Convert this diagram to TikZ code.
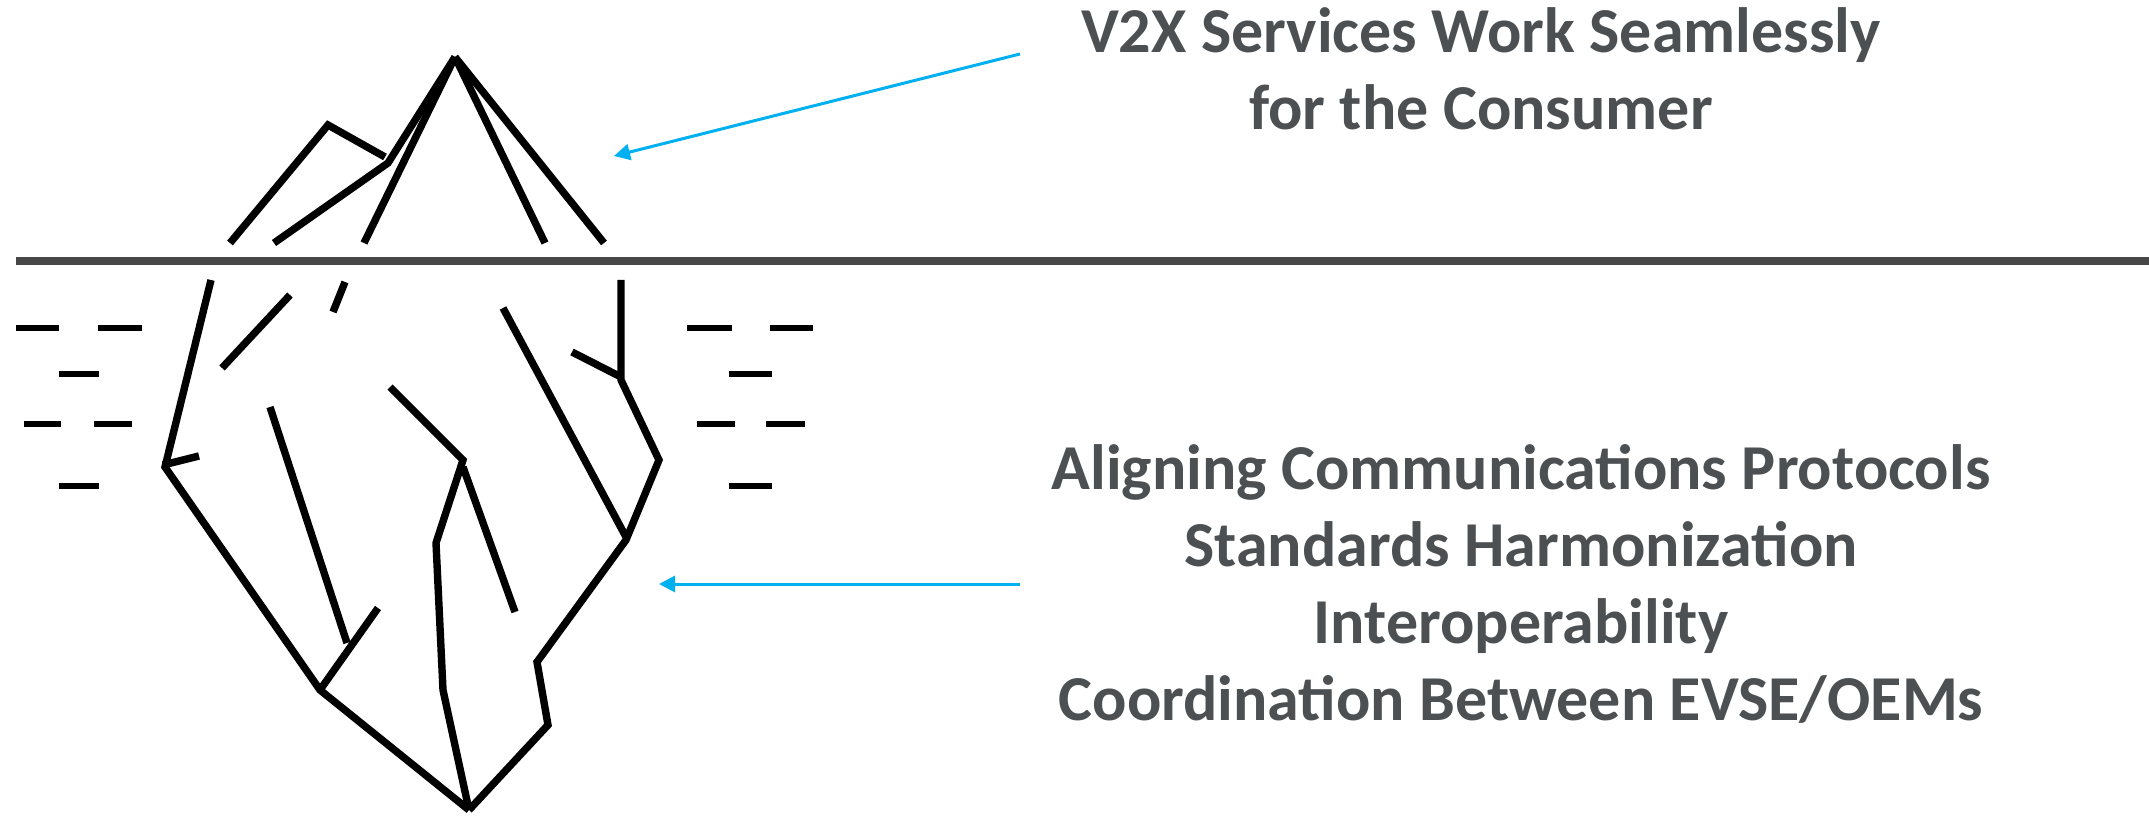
\documentclass[tikz,border=0pt]{standalone}
\usepackage{fontspec}
\setmainfont{Carlito}
\usepackage{tikz}
\usetikzlibrary{arrows.meta}
\definecolor{inkgray}{RGB}{77,80,82}
\definecolor{skyblue}{RGB}{0,176,240}
\tikzset{
  ice/.style={line width=3.7pt,black},
  wave/.style={line width=3pt,black},
  sea/.style={line width=3.8pt,color=black!72},
  arr/.style={skyblue,line width=1.5pt,-{Triangle[length=8pt,width=8pt]}},
  lbl/.style={text=inkgray,font=\fontsize{32}{38.5}\selectfont\bfseries,align=center,inner sep=0pt},
}

\begin{document}
\begin{tikzpicture}[x=0.5pt,y=-0.5pt]
 \useasboundingbox (0,0) rectangle (2149,818);
 % waterline
 \coordinate (shoreL) at (16,261); \coordinate (shoreR) at (2149,261);
 \draw[sea] (shoreL) -- (shoreR);
 % tip above the water
 \draw[ice] (230,243) -- (328,125) -- (385,157);
 \draw[ice] (274,243) -- (388,163) -- (455,57);
 \foreach \x in {364,545,604}{\draw[ice] (455,57) -- (\x,243);}
 % hidden mass below the water
 \draw[ice] (211,280) -- (165,467) -- (320,690) -- (469,810);
 \draw[ice] (163,465) -- (199,456);
 \draw[ice] (621,280) -- (621,380) -- (659,460) -- (626,540) -- (537,662) -- (548,725) -- (469,810);
 \draw[ice] (572,352) -- (621,377);
 \draw[ice] (503,308) -- (626,537);
 \draw[ice] (390,387) -- (463,460) -- (436,543) -- (443,690) -- (469,810);
 \draw[ice] (463,467) -- (515,612);
 \draw[ice] (270,407) -- (347,643);
 \draw[ice] (378,608) -- (320,690);
 \draw[ice] (290,295) -- (222,368);
 \draw[ice] (345,282) -- (333,312);
 % ripples either side
 \foreach \a/\b/\y in {16/59/328,98/142/328,59/99/374,24/61/424,94/132/424,59/99/486,
                       687/732/328,770/813/328,729/772/374,697/735/424,766/805/424,729/772/486}
   {\draw[wave] (\a,\y) -- (\b,\y);}
 % captions
 \node[lbl,anchor=north] (surface) at (1481,7) {V2X Services Work Seamlessly\\for the Consumer};
 \node[lbl,anchor=north] (depth) at (1521,444) {Aligning Communications Protocols\\Standards Harmonization\\Interoperability\\Coordination Between EVSE/OEMs};
 \coordinate (surfFrom) at (1020,54); \coordinate (surfTo) at (614,156);
 \coordinate (depthFrom) at (1020,584); \coordinate (depthTo) at (659,584);
 \draw[arr] (surfFrom) -- (surfTo);
 \draw[arr] (depthFrom) -- (depthTo);
\end{tikzpicture}
\end{document}
